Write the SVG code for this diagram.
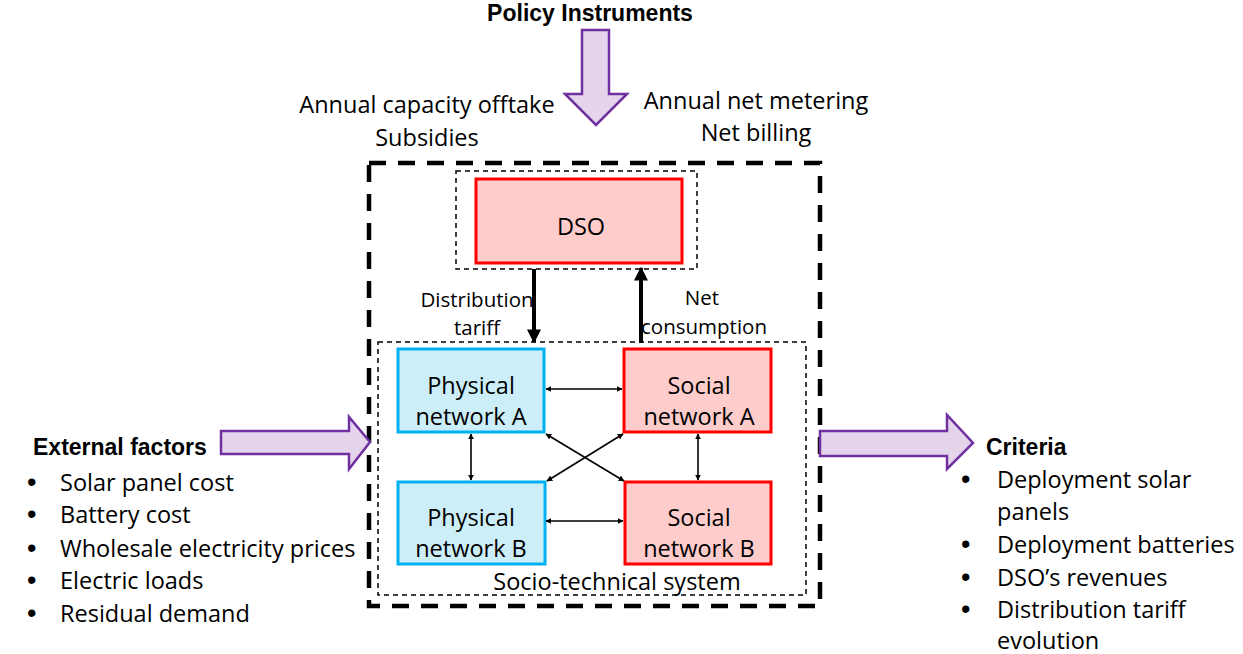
<svg xmlns="http://www.w3.org/2000/svg" width="1243" height="654" viewBox="0 0 1243 654">
<style>
text{font-family:"Open Sans","Liberation Sans",Arial,sans-serif;fill:#000}
.t22{font-size:23.5px}
.t18{font-size:20.5px}
.b{font-family:"Liberation Sans",Arial,sans-serif;font-weight:bold;font-size:23px}
.bu{font-family:"Liberation Sans",Arial,sans-serif;font-size:27px}
.pa{fill:#E4D5EC;stroke:#7030A0;stroke-width:2.5}
.phys{fill:#CCEEF9;stroke:#00B0F0;stroke-width:3}
.soc{fill:#FFCCCC;stroke:#FF0000;stroke-width:3}
.thin{fill:none;stroke:#000;stroke-width:1.5;stroke-dasharray:5 4}
.thick{fill:none;stroke:#000;stroke-width:4.5;stroke-dasharray:17 12}
.c{stroke:#000;stroke-width:1.6;fill:none;marker-start:url(#ah);marker-end:url(#ah)}
.big{stroke:#000;stroke-width:4;fill:none;marker-end:url(#bh)}
</style>
<defs>
<marker id="ah" viewBox="0 0 10 10" refX="9" refY="5" markerWidth="6" markerHeight="6" orient="auto-start-reverse" markerUnits="userSpaceOnUse"><path d="M0,0 L10,5 L0,10 z" fill="#000"/></marker>
<marker id="bh" viewBox="0 0 10 10" refX="9" refY="5" markerWidth="14" markerHeight="14" orient="auto" markerUnits="userSpaceOnUse"><path d="M0,0 L10,5 L0,10 z" fill="#000"/></marker>
</defs>

<g id="boundaries">
<rect class="thick" x="369" y="163" width="451" height="443"/>
<rect class="thin" x="456" y="171" width="241" height="98"/>
<rect class="thin" x="378" y="342" width="428" height="253"/>
</g>

<g id="policy">
<text class="b" x="590" y="21" text-anchor="middle">Policy Instruments</text>
<path class="pa" d="M582,30 L609,30 L609,94 L627,94 L596,125 L565,94 L582,94 Z"/>
<text class="t22" x="427" y="113" text-anchor="middle">Annual capacity offtake</text>
<text class="t22" x="427" y="146" text-anchor="middle">Subsidies</text>
<text class="t22" x="756" y="109" text-anchor="middle">Annual net metering</text>
<text class="t22" x="756" y="141" text-anchor="middle">Net billing</text>
</g>

<g id="dso">
<rect class="soc" x="476" y="179" width="206" height="84"/>
<text class="t22" x="581" y="235" text-anchor="middle">DSO</text>
</g>

<g id="physA">
<rect class="phys" x="398" y="349" width="146" height="83"/>
<text class="t22" x="471" y="394" text-anchor="middle">Physical</text>
<text class="t22" x="471" y="425" text-anchor="middle">network A</text>
</g>
<g id="socA">
<rect class="soc" x="624" y="349" width="147" height="83"/>
<text class="t22" x="699" y="394" text-anchor="middle">Social</text>
<text class="t22" x="699" y="425" text-anchor="middle">network A</text>
</g>
<g id="physB">
<rect class="phys" x="398" y="482" width="147" height="82"/>
<text class="t22" x="471" y="526" text-anchor="middle">Physical</text>
<text class="t22" x="471" y="557" text-anchor="middle">network B</text>
</g>
<g id="socB">
<rect class="soc" x="625" y="482" width="146" height="82"/>
<text class="t22" x="699" y="526" text-anchor="middle">Social</text>
<text class="t22" x="699" y="557" text-anchor="middle">network B</text>
</g>

<text class="t22" x="617" y="590" text-anchor="middle">Socio-technical system</text>

<g id="connectors">
<line class="big" x1="534" y1="269" x2="534" y2="342"/>
<line class="big" x1="641" y1="343" x2="641" y2="268"/>
<line class="c" x1="546" y1="389" x2="622" y2="389"/>
<line class="c" x1="546" y1="521" x2="623" y2="521"/>
<line class="c" x1="471" y1="434" x2="471" y2="480"/>
<line class="c" x1="698" y1="434" x2="698" y2="480"/>
<line class="c" x1="546" y1="434" x2="624" y2="481"/>
<line class="c" x1="623" y1="434" x2="547" y2="481"/>
</g>
<text class="t18" x="477" y="307" text-anchor="middle">Distribution</text>
<text class="t18" x="477" y="335" text-anchor="middle">tariff</text>
<text class="t18" x="702" y="305" text-anchor="middle">Net</text>
<text class="t18" x="704" y="334" text-anchor="middle">consumption</text>

<g id="external">
<path class="pa" d="M221,431 L349,431 L349,417 L370,442 L349,469 L349,454 L221,454 Z"/>
<text class="b" x="33" y="455">External factors</text>
<g class="t22">
<text x="27" y="491"><tspan class="bu">•</tspan><tspan x="60">Solar panel cost</tspan></text>
<text x="27" y="523"><tspan class="bu">•</tspan><tspan x="60">Battery cost</tspan></text>
<text x="27" y="557"><tspan class="bu">•</tspan><tspan x="60">Wholesale electricity prices</tspan></text>
<text x="27" y="589"><tspan class="bu">•</tspan><tspan x="60">Electric loads</tspan></text>
<text x="27" y="622"><tspan class="bu">•</tspan><tspan x="60">Residual demand</tspan></text>
</g>
</g>

<g id="criteria">
<path class="pa" d="M820,431 L947,431 L947,415 L973,443 L947,469 L947,456 L820,456 Z"/>
<text class="b" x="986" y="455">Criteria</text>
<g class="t22">
<text x="961" y="488"><tspan class="bu">•</tspan><tspan x="997">Deployment solar</tspan></text>
<text x="997" y="520">panels</text>
<text x="961" y="553"><tspan class="bu">•</tspan><tspan x="997">Deployment batteries</tspan></text>
<text x="961" y="586"><tspan class="bu">•</tspan><tspan x="997">DSO’s revenues</tspan></text>
<text x="961" y="618"><tspan class="bu">•</tspan><tspan x="997">Distribution tariff</tspan></text>
<text x="997" y="649">evolution</text>
</g>
</g>
</svg>
